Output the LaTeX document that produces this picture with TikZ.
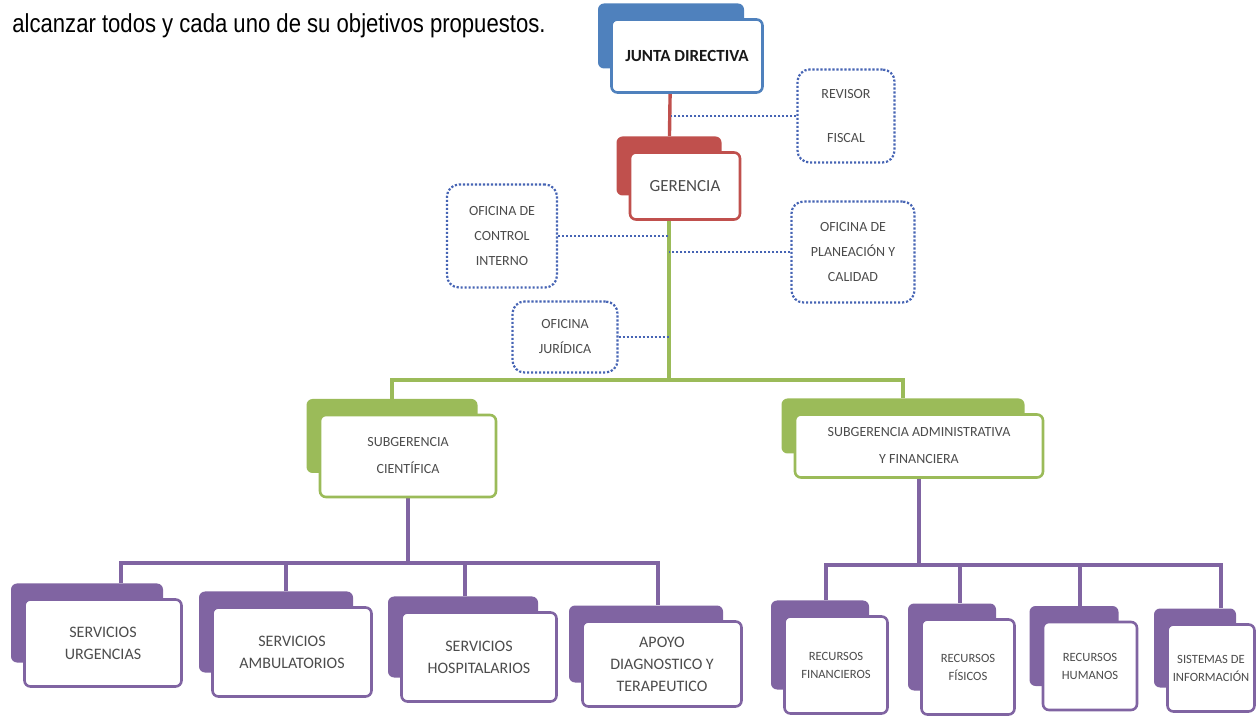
\documentclass[tikz,border=0pt]{standalone}
\usepackage{fontspec}
\setmainfont{Carlito}
\newfontfamily\parrafo{Liberation Sans}[FakeStretch=0.85]
\usetikzlibrary{backgrounds}

\definecolor{azul}{RGB}{79,129,189}
\definecolor{rojo}{RGB}{192,80,77}
\definecolor{verde}{RGB}{155,187,89}
\definecolor{morado}{RGB}{128,100,162}
\definecolor{puntos}{RGB}{70,100,180}

\tikzset{
    frente/.style={draw=#1, line width=1.3pt, rounded corners=3pt, fill=white, align=center, inner sep=0pt, text=black!70},
    fondo/.style={fill=#1, rounded corners=3pt, inner sep=0pt},
    oficina/.style={draw=puntos, line width=1.1pt, dash pattern=on 1.1pt off 0.9pt, rounded corners=6pt, fill=white, align=center, inner sep=0pt, text=black!70, font=\fontsize{7}{12.5}\selectfont},
    linea/.style={draw=#1, line width=1.7pt},
    enlace/.style={draw=puntos, line width=1.1pt, dash pattern=on 1.1pt off 0.9pt},
    titulo/.style={font=\fontsize{8.5}{10}\selectfont\bfseries, text=black!90},
    medio/.style={font=\fontsize{8.5}{10}\selectfont},
    sub/.style={font=\fontsize{7}{13.5}\selectfont},
    servicio/.style={font=\fontsize{8}{11}\selectfont},
    recurso/.style={font=\fontsize{6.3}{9}\selectfont}
}

\begin{document}
\begin{tikzpicture}[x=0.5pt, y=-0.5pt]
    \useasboundingbox (0,0) rectangle (1259,716);

    \node[anchor=base west, inner sep=0pt, font=\parrafo\fontsize{13}{15}\selectfont] (texto) at (12,33) {alcanzar todos y cada uno de su objetivos propuestos.};

    % cajas dobles: fondo de color y frente blanco
    \foreach \n/\col/\x/\y/\w/\h/\e/\t in {
        junta/azul/687/56/151/73/titulo/{JUNTA DIRECTIVA},
        gerencia/rojo/685/186/110/67/medio/{GERENCIA},
        subc/verde/408/456/176/82/sub/{SUBGERENCIA\\CIENTÍFICA},
        suba/verde/919/446/248/63/sub/{SUBGERENCIA ADMINISTRATIVA\\Y FINANCIERA},
        urg/morado/103/643/157/87/servicio/{SERVICIOS\\URGENCIAS},
        amb/morado/292/652/159/89/servicio/{SERVICIOS\\AMBULATORIOS},
        hosp/morado/479/657/155/89/servicio/{SERVICIOS\\HOSPITALARIOS},
        apoyo/morado/662/664/159/85/servicio/{APOYO\\DIAGNOSTICO Y\\TERAPEUTICO},
        fin/morado/836/665/103/97/recurso/{RECURSOS\\FINANCIEROS},
        fis/morado/968/667/93/95/recurso/{RECURSOS\\FÍSICOS},
        hum/morado/1090/666/94/88/recurso/{RECURSOS\\HUMANOS},
        sis/morado/1211/668/87/87/recurso/{SISTEMAS DE\\INFORMACIÓN}}{
        \node[fondo=\col, minimum width=(\w-5)*0.5pt, minimum height=(\h-8)*0.5pt] (\n b) at (\x-16,\y-20) {};
        \node[frente=\col, \e, minimum width=\w*0.5pt, minimum height=\h*0.5pt] (\n) at (\x,\y) {\t};
    }

    % oficinas punteadas
    \foreach \n/\x/\y/\w/\h/\t in {
        revisor/846/116/97/93/{REVISOR\\[9.5pt]FISCAL},
        control/502/236/110/103/{OFICINA DE\\CONTROL\\INTERNO},
        planeacion/853/252/123/101/{OFICINA DE\\PLANEACIÓN Y\\CALIDAD},
        juridica/565/337/105/71/{OFICINA\\JURÍDICA}}{
        \node[oficina, minimum width=\w*0.5pt, minimum height=\h*0.5pt] (\n) at (\x,\y) {\t};
    }

    \coordinate (busv) at (669,380);
    \coordinate (busi) at (405,563);
    \coordinate (busd) at (919,565);

    \begin{scope}[on background layer]
        \draw[linea=rojo] (juntab) -- (gerenciab);
        \draw[linea=verde] (gerenciab) -- (busv);
        \draw[linea=verde] (subcb) |- (busv) -| (subab);
        \draw[linea=morado] (subc) |- (busi);
        \draw[linea=morado] (suba) |- (busd);
        \foreach \n/\d in {urg/17,amb/5,hosp/1,apoyo/6}
            \draw[linea=morado] ([xshift=\d pt]\n b.north) |- (busi);
        \foreach \n/\d in {fin/3,fis/4,hum/3,sis/13}
            \draw[linea=morado] ([xshift=\d pt]\n b.north) |- (busd);
        \draw[enlace] (revisor) -- (revisor -| juntab);
        \draw[enlace] (control) -- (control -| gerenciab);
        \draw[enlace] (planeacion) -- (planeacion -| gerenciab);
        \draw[enlace] (juridica) -- (juridica -| gerenciab);
    \end{scope}

\end{tikzpicture}
\end{document}
